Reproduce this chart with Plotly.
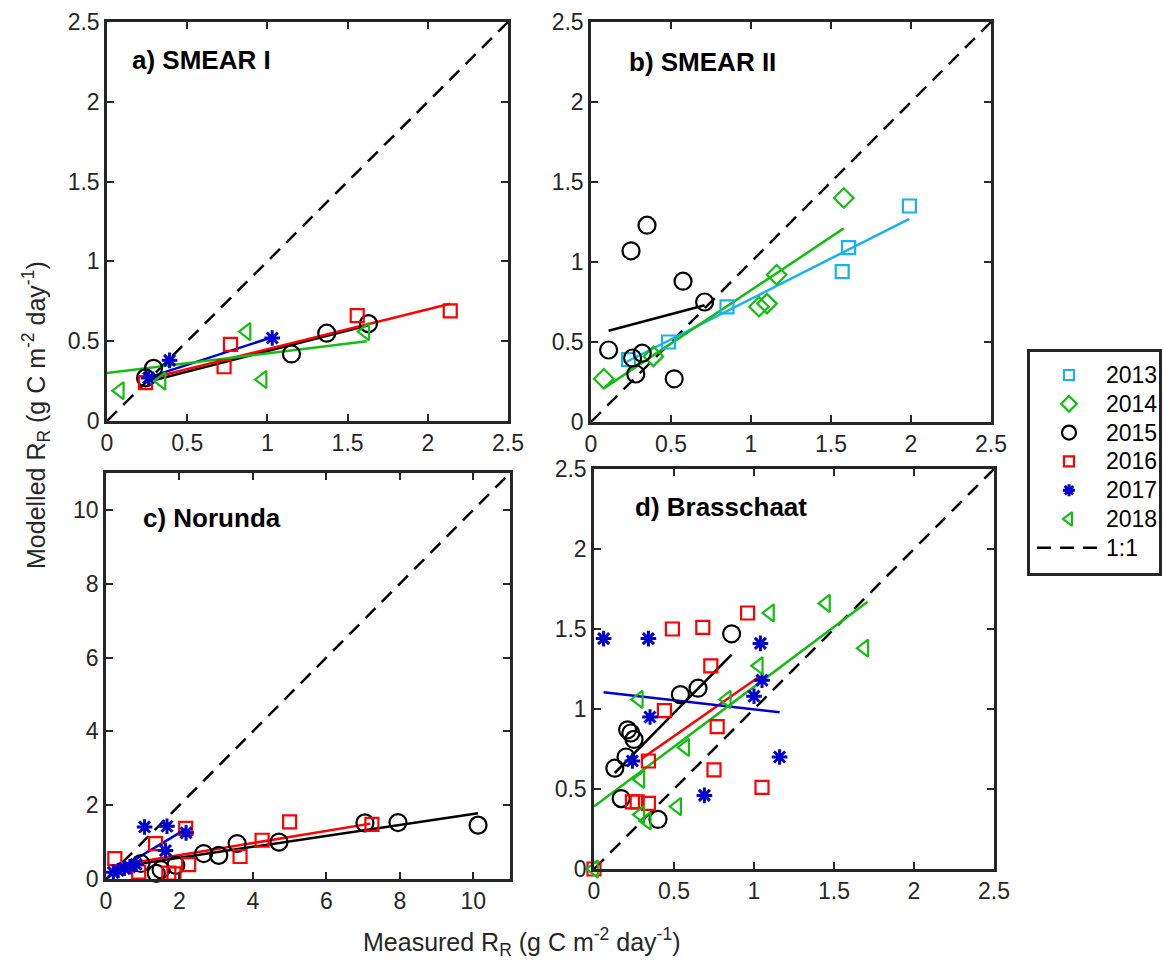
import plotly.graph_objects as go

FONT = "Liberation Sans, Arial, sans-serif"
AXC = "#262626"

YEARS = ["2013", "2014", "2015", "2016", "2017", "2018"]
COLORS = {"2013": "#1AB2E8", "2014": "#12BE12", "2015": "#000000",
          "2016": "#FF0000", "2017": "#0000CC", "2018": "#12BE12"}
SYMBOLS = {"2013": "square-open", "2014": "diamond-open", "2015": "circle-open",
           "2016": "square-open", "2017": "asterisk-open", "2018": "triangle-left-open"}
SIZES = {"2013": 13, "2014": 15, "2015": 17, "2016": 13, "2017": 13, "2018": 15}
LEGEND_LABELS = YEARS + ["1:1"]

# ---------------- a) SMEAR I ----------------
SMEAR1_MEAS = {
    "2015": [0.24, 0.29, 1.15, 1.37, 1.63],
    "2016": [0.24, 0.73, 0.77, 1.56, 2.14],
    "2017": [0.26, 0.39, 1.03],
    "2018": [0.08, 0.34, 0.87, 0.97, 1.61],
}
SMEAR1_MOD = {
    "2015": [0.27, 0.33, 0.42, 0.55, 0.61],
    "2016": [0.24, 0.34, 0.48, 0.66, 0.69],
    "2017": [0.27, 0.38, 0.52],
    "2018": [0.19, 0.25, 0.56, 0.26, 0.56],
}
SMEAR1_FIT_X = {"2015": [0.23, 1.63], "2016": [0.24, 2.14], "2017": [0.25, 1.03], "2018": [0.0, 1.62]}
SMEAR1_FIT_Y = {"2015": [0.24, 0.60], "2016": [0.26, 0.735], "2017": [0.27, 0.525], "2018": [0.30, 0.50]}

# ---------------- b) SMEAR II ----------------
SMEAR2_MEAS = {
    "2013": [0.235, 0.485, 0.85, 1.57, 1.61, 1.99],
    "2014": [0.08, 0.39, 1.05, 1.10, 1.16, 1.58],
    "2015": [0.11, 0.25, 0.35, 0.26, 0.28, 0.32, 0.52, 0.575, 0.71],
}
SMEAR2_MOD = {
    "2013": [0.39, 0.50, 0.72, 0.94, 1.09, 1.35],
    "2014": [0.27, 0.41, 0.72, 0.74, 0.92, 1.40],
    "2015": [0.45, 1.07, 1.23, 0.40, 0.30, 0.43, 0.27, 0.88, 0.75],
}
SMEAR2_FIT_X = {"2013": [0.22, 1.99], "2014": [0.08, 1.58], "2015": [0.11, 0.71]}
SMEAR2_FIT_Y = {"2013": [0.375, 1.27], "2014": [0.21, 1.21], "2015": [0.57, 0.73]}

# ---------------- c) Norunda ----------------
NORUNDA_MEAS = {
    "2015": [0.95, 1.37, 1.50, 1.90, 2.66, 3.07, 3.57, 4.71, 7.05, 7.95, 10.13],
    "2016": [0.24, 0.89, 1.35, 1.71, 1.85, 2.17, 2.25, 3.65, 4.25, 5.00, 7.24],
    "2017": [0.20, 0.33, 0.50, 0.65, 0.82, 1.05, 1.62, 1.66, 2.18],
}
NORUNDA_MOD = {
    "2015": [0.42, 0.15, 0.25, 0.37, 0.69, 0.64, 0.96, 1.00, 1.52, 1.53, 1.46],
    "2016": [0.55, 0.19, 0.96, 0.16, 0.14, 1.37, 0.39, 0.61, 1.05, 1.55, 1.48],
    "2017": [0.18, 0.23, 0.29, 0.33, 0.40, 1.41, 0.77, 1.43, 1.25],
}
NORUNDA_FIT_X = {"2015": [0.95, 10.13], "2016": [0.20, 7.20], "2017": [0.10, 2.17]}
NORUNDA_FIT_Y = {"2015": [0.42, 1.78], "2016": [0.35, 1.50], "2017": [0.12, 1.35]}

# ---------------- d) Brasschaat ----------------
BRASS_MEAS = {
    "2015": [0.86, 0.65, 0.54, 0.21, 0.23, 0.25, 0.20, 0.13, 0.17, 0.40],
    "2016": [0.0, 0.49, 0.68, 0.96, 0.73, 0.44, 0.77, 0.34, 0.75, 1.05, 0.24, 0.27, 0.34],
    "2017": [0.06, 0.34, 1.04, 1.05, 1.00, 0.35, 0.24, 0.69, 1.16],
    "2018": [0.0, 1.10, 1.03, 0.28, 0.83, 0.57, 0.29, 0.29, 0.33, 0.52, 1.45, 1.69],
}
BRASS_MOD = {
    "2015": [1.47, 1.13, 1.09, 0.87, 0.85, 0.81, 0.70, 0.63, 0.44, 0.31],
    "2016": [0.0, 1.50, 1.51, 1.60, 1.27, 0.99, 0.89, 0.675, 0.62, 0.51, 0.42, 0.42, 0.41],
    "2017": [1.44, 1.44, 1.41, 1.18, 1.08, 0.95, 0.675, 0.46, 0.70],
    "2018": [0.0, 1.60, 1.27, 1.06, 1.06, 0.76, 0.56, 0.34, 0.30, 0.39, 1.66, 1.38],
}
BRASS_FIT_X = {"2015": [0.13, 0.86], "2016": [0.30, 1.03], "2017": [0.06, 1.16], "2018": [0.0, 1.71]}
BRASS_FIT_Y = {"2015": [0.60, 1.34], "2016": [0.69, 1.20], "2017": [1.105, 0.98], "2018": [0.39, 1.67]}

PANELS = [
    ("a) SMEAR I", SMEAR1_MEAS, SMEAR1_MOD, SMEAR1_FIT_X, SMEAR1_FIT_Y, 2.5, 0.5),
    ("b) SMEAR II", SMEAR2_MEAS, SMEAR2_MOD, SMEAR2_FIT_X, SMEAR2_FIT_Y, 2.5, 0.5),
    ("c) Norunda", NORUNDA_MEAS, NORUNDA_MOD, NORUNDA_FIT_X, NORUNDA_FIT_Y, 11, 2),
    ("d) Brasschaat", BRASS_MEAS, BRASS_MOD, BRASS_FIT_X, BRASS_FIT_Y, 2.5, 0.5),
]

W, H = 1164, 964
# panel frames in pixels (left, right, top, bottom)
FRAMES = [(107, 508, 22, 421), (591, 991, 22, 422), (106, 510, 473, 879), (594, 994, 469, 869)]
LABEL_POS = [(0.057, 0.905), (0.089, 0.90), (0.086, 0.89), (0.098, 0.906)]
LEGEND_FRAME = (1030, 1159, 352, 573)

TICK_SIZE = 23
TITLE_SIZE = 25
LABEL_SIZE = 26

fig = go.Figure()
layout = dict(width=W, height=H, margin=dict(l=0, r=0, t=0, b=0, autoexpand=False),
              paper_bgcolor="white", plot_bgcolor="white", showlegend=False,
              font=dict(family=FONT, size=TICK_SIZE, color=AXC))

annotations = []
for i, (label, meas, mod, fx, fy, lim, dt) in enumerate(PANELS):
    n = i + 1
    xa = "x" if n == 1 else f"x{n}"
    ya = "y" if n == 1 else f"y{n}"
    l, r, t, b = FRAMES[i]
    axis = dict(showline=True, linecolor=AXC, linewidth=2.5, mirror="ticks",
                ticks="inside", ticklen=7, tickwidth=2, tickcolor=AXC,
                showgrid=False, zeroline=False, range=[0, lim], dtick=dt, tick0=0,
                automargin=False,
                tickfont=dict(family=FONT, size=TICK_SIZE, color=AXC), fixedrange=True)
    layout["xaxis" if n == 1 else f"xaxis{n}"] = dict(axis, domain=[l / W, r / W], anchor=ya)
    layout["yaxis" if n == 1 else f"yaxis{n}"] = dict(axis, domain=[1 - b / H, 1 - t / H], anchor=xa)

    # 1:1 line
    fig.add_trace(go.Scatter(x=[0, lim], y=[0, lim], mode="lines", xaxis=xa, yaxis=ya,
                             line=dict(color="black", width=2.5, dash="14px,9px"),
                             hoverinfo="skip"))
    # fit lines
    for yr in YEARS:
        if yr in fx:
            fig.add_trace(go.Scatter(x=fx[yr], y=fy[yr], mode="lines", xaxis=xa, yaxis=ya,
                                     line=dict(color=COLORS[yr], width=2.5), hoverinfo="skip"))
    # points
    for yr in YEARS:
        if yr in meas:
            fig.add_trace(go.Scatter(
                x=meas[yr], y=mod[yr], mode="markers", xaxis=xa, yaxis=ya, name=yr,
                marker=dict(symbol=SYMBOLS[yr], size=SIZES[yr], color=COLORS[yr],
                            line=dict(color=COLORS[yr], width=2.2 if yr != "2017" else 3)),
                cliponaxis=False))

    annotations.append(dict(text=f"<b>{label}</b>", xref=f"{xa} domain", yref=f"{ya} domain",
                            x=LABEL_POS[i][0], y=LABEL_POS[i][1], xanchor="left", yanchor="middle",
                            showarrow=False, font=dict(family=FONT, size=LABEL_SIZE, color="black")))

# ---------------- custom legend box (own small axes) ----------------
lx0, lx1, ly0, ly1 = LEGEND_FRAME
step = 28.8
top_pad = 23 / step
layout["xaxis5"] = dict(domain=[lx0 / W, lx1 / W], range=[0, 1], anchor="y5", automargin=False,
                        showline=True, mirror=True, linecolor=AXC, linewidth=2.5,
                        showticklabels=False, ticks="", showgrid=False, zeroline=False, fixedrange=True)
layout["yaxis5"] = dict(domain=[1 - ly1 / H, 1 - ly0 / H], automargin=False,
                        range=[(ly1 - ly0) / step - top_pad, -top_pad], anchor="x5",
                        showline=True, mirror=True, linecolor=AXC, linewidth=2.5,
                        showticklabels=False, ticks="", showgrid=False, zeroline=False, fixedrange=True)
mark_x = (1069 - lx0) / (lx1 - lx0)
text_x = (1104 - lx0) / (lx1 - lx0)
for k, lab in enumerate(LEGEND_LABELS):
    if lab in SYMBOLS:
        fig.add_trace(go.Scatter(
            x=[mark_x], y=[k], mode="markers", xaxis="x5", yaxis="y5", hoverinfo="skip",
            marker=dict(symbol=SYMBOLS[lab], size=round(SIZES[lab] * 0.8), color=COLORS[lab],
                        line=dict(color=COLORS[lab], width=2.2 if lab != "2017" else 3))))
    else:
        fig.add_trace(go.Scatter(
            x=[(1037 - lx0) / (lx1 - lx0), (1100 - lx0) / (lx1 - lx0)], y=[k, k], mode="lines",
            xaxis="x5", yaxis="y5", hoverinfo="skip",
            line=dict(color="black", width=2.5, dash="14px,9px")))
    annotations.append(dict(text=lab, xref="x5", yref="y5", x=text_x, y=k, xanchor="left",
                            yanchor="middle", showarrow=False,
                            font=dict(family=FONT, size=TICK_SIZE, color="black")))

annotations.append(dict(text="Measured R<sub>R</sub> (g C m<sup>-2</sup> day<sup>-1</sup>)",
                        xref="paper", yref="paper", x=521 / W, y=1 - 942 / H,
                        xanchor="center", yanchor="middle", showarrow=False,
                        font=dict(family=FONT, size=TITLE_SIZE, color=AXC)))
annotations.append(dict(text="Modelled R<sub>R</sub> (g C m<sup>-2</sup> day<sup>-1</sup>)",
                        xref="paper", yref="paper", x=36 / W, y=1 - 415 / H, textangle=-90,
                        xanchor="center", yanchor="middle", showarrow=False,
                        font=dict(family=FONT, size=TITLE_SIZE, color=AXC)))

layout["annotations"] = annotations
fig.update_layout(**layout)
fig.write_html("out.html")
